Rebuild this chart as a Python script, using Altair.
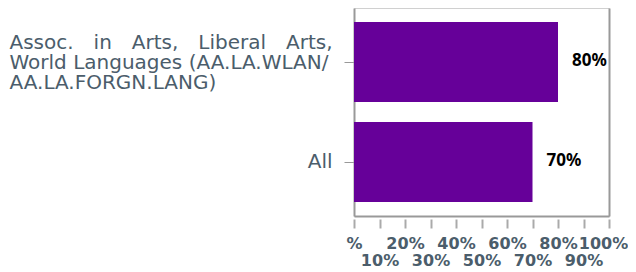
import json
import altair as alt
import pandas as pd

# ---- data -------------------------------------------------------------
categories = [
    "Assoc. in Arts, Liberal Arts, World Languages (AA.LA.WLAN/ AA.LA.FORGN.LANG)",
    "All",
]
values = [80, 70]
value_labels = ["80%", "70%"]

# display lines for the long category label (justified look, left-aligned block)
assoc_lines = [
    "Assoc.\u2003in\u2003Arts,\u2003Liberal\u2003Arts,",
    "World Languages (AA.LA.WLAN/",
    "AA.LA.FORGN.LANG)",
]

tick_values = [0, 10, 20, 30, 40, 50, 60, 70, 80, 90, 100]
odd_label_values = [10, 30, 50, 70, 90, 100]

df = pd.DataFrame({"category": categories, "value": values, "label": value_labels})

# ---- styles -----------------------------------------------------------
LABEL_COLOR = "#4b5d6b"
BAR_COLOR = "#660099"
AX_FONT = "DejaVu Sans"

x_scale = alt.Scale(domain=[0, 100], nice=False, zero=True)
y_scale = alt.Scale(paddingInner=0.2, paddingOuter=0.14)

lines_js = "[" + ",".join(json.dumps(l, ensure_ascii=False) for l in assoc_lines) + "]"
y_label_expr = "datum.value == 'All' ? 'All' : " + lines_js

y_enc = alt.Y(
    "category:N",
    sort=categories,
    scale=y_scale,
    title=None,
    axis=alt.Axis(
        labelFont=AX_FONT,
        labelFontSize=20,
        labelLineHeight=20,
        labelColor=LABEL_COLOR,
        labelAlign={"condition": {"test": "datum.value == 'All'", "value": "right"}, "value": "left"},
        labelPadding={"condition": {"test": "datum.value == 'All'", "value": 12}, "value": 335},
        labelOffset={"condition": {"test": "datum.value == 'All'", "value": 0}, "value": -19},
        labelBaseline="middle",
        labelLimit=1000,
        labelExpr=y_label_expr,
        tickSize=10,
        tickColor="#999999",
        tickWidth=1,
        domainColor="#999999",
        domainWidth=2,
        minExtent=346,
        maxExtent=346,
        grid=False,
    ),
)

axis_even = alt.Axis(
    orient="bottom",
    values=tick_values,
    offset=3,
    domain=False,
    ticks=True,
    tickSize=9,
    tickColor="#aaaaaa",
    tickWidth=2,
    labelExpr="datum.value % 20 == 0 ? (datum.value == 0 ? '%' : datum.value + '%') : ''",
    labelFont=AX_FONT,
    labelFontSize=16,
    labelFontWeight="bold",
    labelColor=LABEL_COLOR,
    labelPadding=7,
    labelOffset={"condition": {"test": "datum.value == 100", "value": -6}, "value": 0},
    labelFlush=False,
    labelOverlap=False,
    labelBound=False,
    grid=False,
    title=None,
)

axis_odd = alt.Axis(
    orient="bottom",
    values=odd_label_values,
    offset=0,
    domain=True,
    domainColor="#999999",
    domainWidth=2,
    ticks=False,
    tickSize=0,
    labelExpr="datum.value == 100 ? '' : datum.value + '%'",
    labelFont=AX_FONT,
    labelFontSize=16,
    labelFontWeight="bold",
    labelColor=LABEL_COLOR,
    labelPadding=36,
    labelFlush=False,
    labelOverlap=False,
    labelBound=False,
    grid=True,
    gridColor="#999999",
    gridWidth=2,
    gridOpacity={"condition": {"test": "datum.value == 100", "value": 1}, "value": 0},
    title=None,
)

bars = alt.Chart(df).mark_bar(color=BAR_COLOR).encode(
    x=alt.X("value:Q", scale=x_scale, axis=axis_even),
    y=y_enc,
)

texts = alt.Chart(df).mark_text(
    align="left",
    baseline="middle",
    dx=14,
    dy=-1,
    font="Noto Sans",
    fontWeight="bold",
    fontSize=17,
    color="#000000",
).encode(
    x=alt.X("value:Q", scale=x_scale, axis=axis_odd),
    y=y_enc,
    text="label:N",
)

chart = (
    alt.layer(bars, texts)
    .resolve_scale(x="shared")
    .resolve_axis(x="independent")
    .properties(width=255, height=208, padding=0)
    .configure_view(stroke="#d0d0d0", strokeWidth=1)
)

chart.save("out.html", embed_options={"renderer": "svg", "actions": False})
